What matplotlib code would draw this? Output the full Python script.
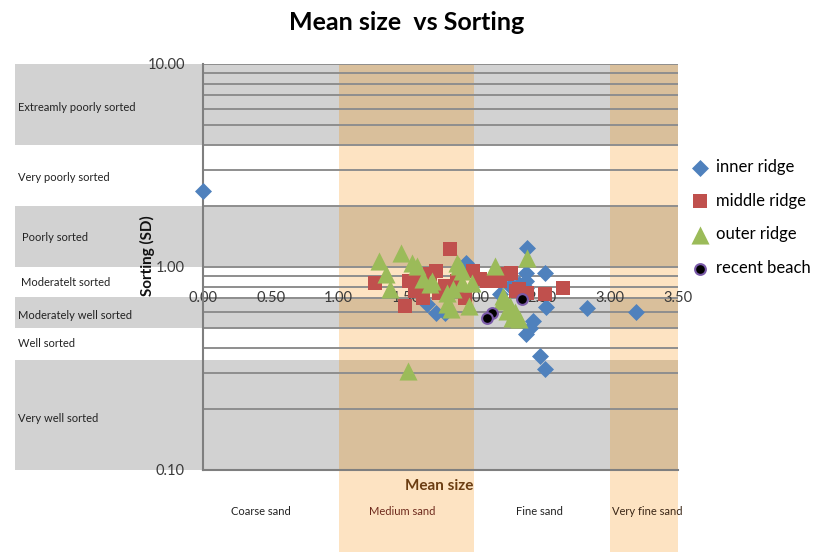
import matplotlib
matplotlib.use("Agg")
import matplotlib.pyplot as plt
from matplotlib.patches import Rectangle
from matplotlib.transforms import blended_transform_factory
from matplotlib.ticker import NullFormatter, LogLocator

plt.rcParams['font.family'] = ['Lato', 'DejaVu Sans']

# ---- sample data: mean size (phi) vs sorting (SD) ----
inner_x = [0.00, 2.39, 2.52, 2.38, 2.38, 2.53, 2.43, 2.41, 2.38, 2.48, 2.52,
           1.72, 1.65, 1.78, 1.94, 2.19, 2.26, 2.28, 2.38, 2.33, 2.83, 3.19]
inner_y = [2.37, 1.24, 0.934, 0.934, 0.853, 0.635, 0.542, 0.501, 0.468, 0.364, 0.315,
           0.593, 0.657, 0.593, 1.05, 0.736, 0.806, 0.806, 0.788, 0.82, 0.628, 0.600]

middle_x = [1.82, 1.27, 1.49, 1.52, 1.60, 1.67, 1.72, 1.74, 1.87, 1.99, 2.09,
            2.19, 2.27, 2.39, 2.52, 2.65, 1.93, 2.31, 1.56, 1.63, 1.78, 1.62,
            2.04, 2.24, 2.33]
middle_y = [1.23, 0.834, 0.643, 0.853, 0.873, 0.924, 0.955, 0.745, 0.853, 0.955, 0.853,
            0.853, 0.934, 0.745, 0.736, 0.788, 0.703, 0.762, 0.762, 0.806, 0.806, 0.70,
            0.87, 0.92, 0.78]

outer_x = [1.30, 1.46, 1.54, 1.58, 1.35, 1.38, 1.69, 1.67, 1.80, 1.83, 1.89,
           1.91, 1.98, 1.96, 2.15, 2.21, 2.24, 2.28, 2.33, 2.39, 1.51, 1.87,
           1.91, 1.84, 1.80, 2.26, 2.30, 1.62, 2.20]
outer_y = [1.07, 1.17, 1.05, 1.01, 0.924, 0.779, 0.853, 0.825, 0.745, 0.621, 1.01,
           0.834, 0.834, 0.643, 1.01, 0.720, 0.607, 0.561, 0.555, 1.11, 0.307, 1.05,
           0.96, 0.779, 0.657, 0.64, 0.60, 0.873, 0.68]

recent_x = [2.13, 2.09, 2.35]
recent_y = [0.593, 0.561, 0.696]

# Folk & Ward sorting classes: (lower, upper, label, shaded)
sorting_lo = [0.10, 0.35, 0.50, 0.71, 1.00, 2.00, 4.00]
sorting_hi = [0.35, 0.50, 0.71, 1.00, 2.00, 4.00, 10.00]
sorting_names = ["Very well sorted", "Well sorted", "Moderately well sorted",
                 "Moderatelt sorted", "Poorly sorted", "Very poorly sorted",
                 "Extreamly poorly sorted"]
sorting_shaded = [True, False, True, False, True, False, True]
sorting_label_y = [0.180, 0.418, 0.574, 0.834, 1.39, 2.77, 6.07]
sorting_label_x = [-0.389, -0.389, -0.389, -0.383, -0.381, -0.389, -0.389]

# grain size classes (phi)
size_lo = [0.0, 1.0, 2.0, 3.0]
size_hi = [1.0, 2.0, 3.0, 3.5]
size_names = ["Coarse sand", "Medium sand", "Fine sand", "Very fine sand"]
size_tinted = [False, True, False, True]
size_label_x = [0.43, 1.47, 2.48, 3.27]
size_label_colors = ["#222222", "#6e2a1c", "#222222", "#3a2616"]

x_ticks = [0.0, 0.5, 1.0, 1.5, 2.0, 2.5, 3.0, 3.5]

GRAY = "#d2d2d2"
LIGHT_ORANGE = "#fde3c2"
TAN = "#d9bf9b"
GRID = "#8e8e8e"

fig = plt.figure(figsize=(8.14, 5.52), dpi=100)
ax = fig.add_axes([0.2494, 0.1486, 0.5835, 0.7355])
ax.set_yscale("log")
ax.set_xlim(0, 3.5)
ax.set_ylim(0.1, 10)

y_blend = blended_transform_factory(ax.transAxes, ax.transData)
x_blend = blended_transform_factory(ax.transData, ax.transAxes)

# horizontal sorting bands, extended to the left for the class labels
for lo, hi, shaded in zip(sorting_lo, sorting_hi, sorting_shaded):
    if shaded:
        ax.add_patch(Rectangle((-0.396, lo), 1.396, hi - lo, transform=y_blend,
                               facecolor=GRAY, lw=0, zorder=0.1, clip_on=False))

# vertical grain size bands
for x0, x1, tinted in zip(size_lo, size_hi, size_tinted):
    if not tinted:
        continue
    for lo, hi, shaded in zip(sorting_lo, sorting_hi, sorting_shaded):
        ax.add_patch(Rectangle((x0, lo), x1 - x0, hi - lo,
                               facecolor=TAN if shaded else LIGHT_ORANGE,
                               lw=0, zorder=0.2))
    ax.add_patch(Rectangle((x0, -0.202), x1 - x0, 0.202, transform=x_blend,
                           facecolor=LIGHT_ORANGE, lw=0, zorder=0.2, clip_on=False))

# gridlines on every log step
ax.yaxis.set_major_locator(LogLocator(base=10, numticks=5))
ax.yaxis.set_minor_locator(LogLocator(base=10, subs=range(2, 10), numticks=20))
ax.yaxis.set_minor_formatter(NullFormatter())
ax.set_yticks([0.1, 1, 10])
ax.set_yticklabels(["0.10", "1.00", "10.00"])
ax.set_axisbelow(True)
ax.grid(True, which="both", axis="y", color=GRID, lw=1.4)
ax.set_xticks([])
ax.tick_params(axis="y", which="both", length=0, pad=13, labelsize=10.5,
               labelcolor="#3a3a3a")

for side in ("top", "right"):
    ax.spines[side].set_visible(False)
for side in ("left", "bottom"):
    ax.spines[side].set_color("#7f7f7f")
    ax.spines[side].set_linewidth(1.5)

# x tick labels sit inside the plot
for xv in x_ticks:
    ax.text(xv, 0.70, f"{xv:.2f}", ha="center", va="center", fontsize=10.5,
            color="#3a3a3a", zorder=2)

# data
ax.scatter(inner_x, inner_y, marker="D", s=75, color="#4f81bd", lw=0,
           zorder=3, clip_on=False, label="inner ridge")
ax.scatter(middle_x, middle_y, marker="s", s=115, color="#c0504d", lw=0,
           zorder=3, label="middle ridge")
ax.scatter(outer_x, outer_y, marker="^", s=170, color="#9bbb59", lw=0,
           zorder=3, label="outer ridge")
ax.scatter(recent_x, recent_y, marker="o", s=60, color="black",
           edgecolor="#7a5aa8", lw=1.5, zorder=3, label="recent beach")

# sorting class labels
for name, yv, xv in zip(sorting_names, sorting_label_y, sorting_label_x):
    ax.text(xv, yv, name, transform=y_blend, ha="left", va="center",
            fontsize=8, color="#222222")

# grain size labels
for name, xv, c in zip(size_names, size_label_x, size_label_colors):
    ax.text(xv, -0.103, name, transform=x_blend, ha="center", va="center",
            fontsize=8, color=c)

ax.text(1.74, -0.039, "Mean size", transform=x_blend, ha="center", va="center",
        fontsize=11, fontweight="bold", color="#6b3d12")

fig.text(147 / 814, 1 - 256 / 552, "Sorting (SD)", rotation=90, ha="center",
         va="center", fontsize=11, fontweight="bold", color="#111111")

fig.text(0.5, 1 - 22 / 552, "Mean size  vs Sorting", ha="center", va="center",
         fontsize=18, fontweight="bold", color="black")

fig.legend(loc="upper left", bbox_to_anchor=(692 / 814, 1 - 159 / 552),
           frameon=False, fontsize=12, handlelength=1.0, handletextpad=0.45,
           labelspacing=1.06, borderpad=0, borderaxespad=0, scatterpoints=1)

fig.savefig("out.png", dpi=100)
